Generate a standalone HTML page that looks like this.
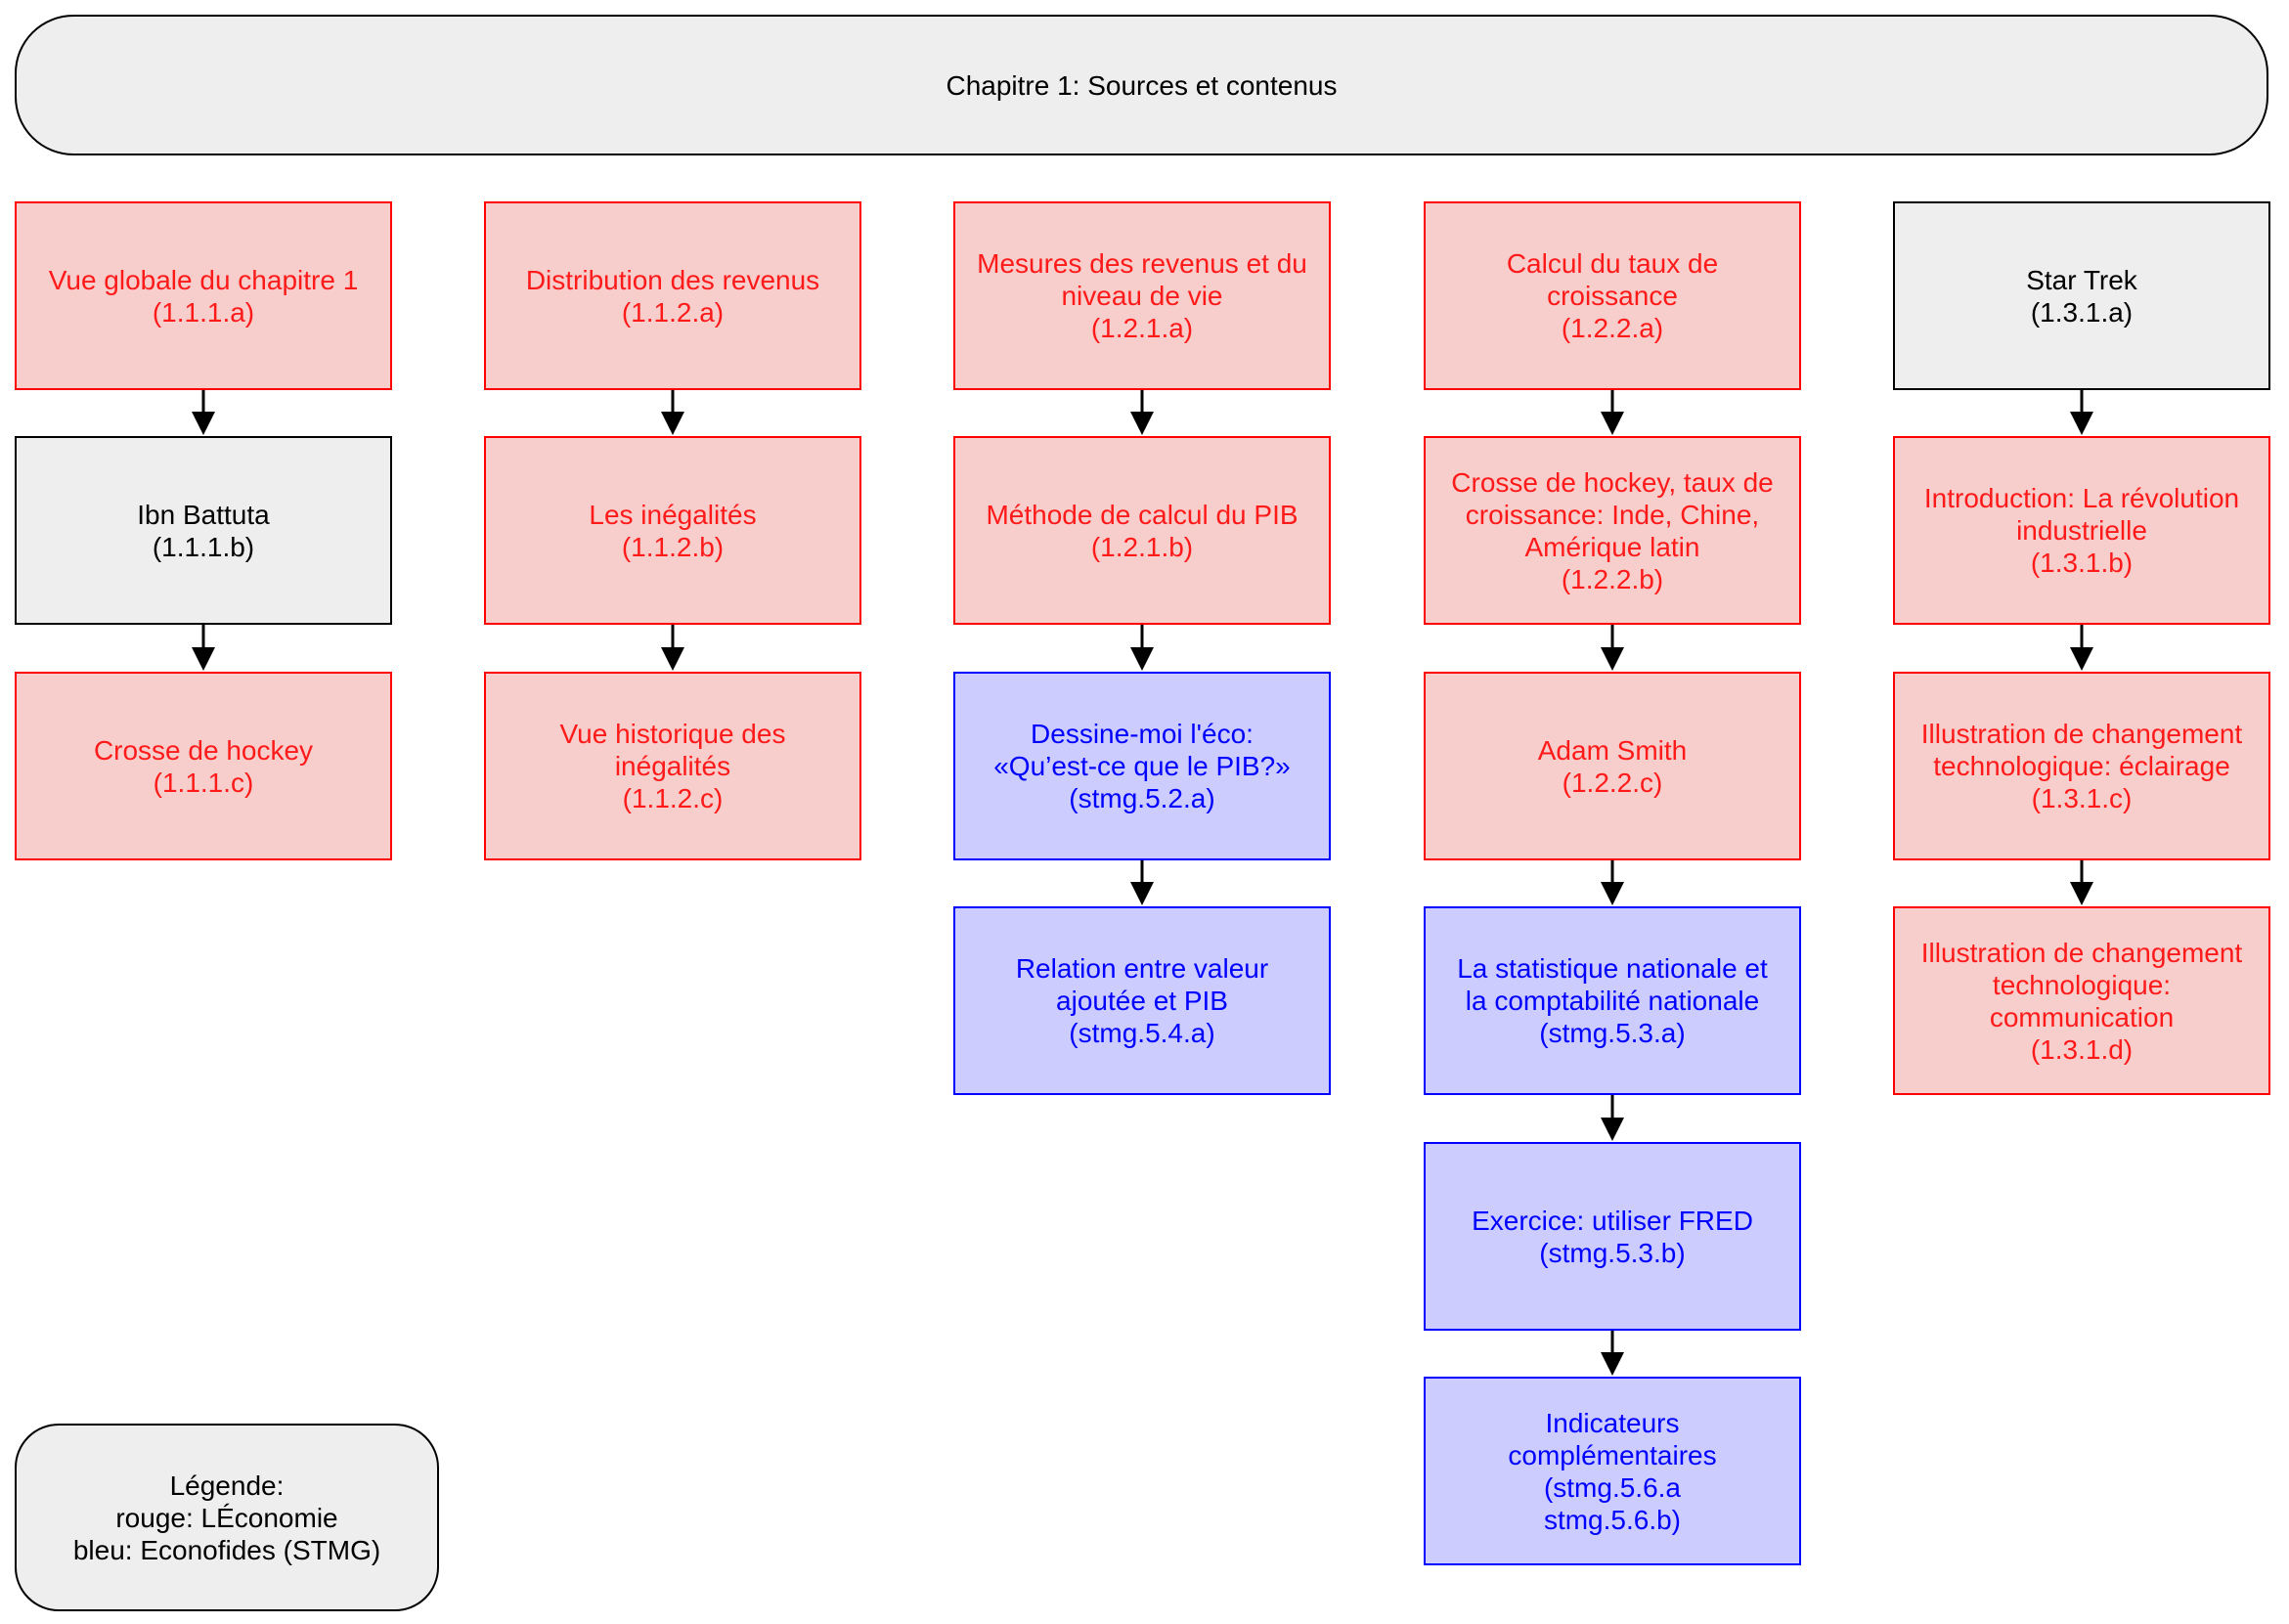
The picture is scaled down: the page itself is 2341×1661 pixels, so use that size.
<!DOCTYPE html>
<html><head><meta charset="utf-8"><style>
body{margin:0;width:2341px;height:1661px;background:#fff;position:relative;font-family:"Liberation Sans",Arial,sans-serif;overflow:hidden}
.b{position:absolute;box-sizing:border-box;display:flex;align-items:center;justify-content:center;text-align:center;font-size:28px;line-height:33px;border:2px solid}
.r{background:#f8cecc;border-color:#ff0000;color:#ff1a1a}
.u{background:#ccccff;border-color:#0000ff;color:#0000ff}
.g{background:#eeeeee;border-color:#000;color:#000}
svg{position:absolute;left:0;top:0}
</style></head><body>
<div class="b g" style="left:15px;top:15px;width:2305px;height:144px;border-radius:60px">Chapitre 1: Sources et contenus</div>
<div class="b g" style="left:15px;top:1456px;width:434px;height:192px;border-radius:45px">Légende:<br>rouge: LÉconomie<br>bleu: Econofides (STMG)</div>

<div class="b r" style="left:15px;top:206px;width:386px;height:193px">Vue globale du chapitre 1<br>(1.1.1.a)</div>
<div class="b g" style="left:15px;top:446px;width:386px;height:193px">Ibn Battuta<br>(1.1.1.b)</div>
<div class="b r" style="left:15px;top:687px;width:386px;height:193px">Crosse de hockey<br>(1.1.1.c)</div>

<div class="b r" style="left:495px;top:206px;width:386px;height:193px">Distribution des revenus<br>(1.1.2.a)</div>
<div class="b r" style="left:495px;top:446px;width:386px;height:193px">Les inégalités<br>(1.1.2.b)</div>
<div class="b r" style="left:495px;top:687px;width:386px;height:193px">Vue historique des<br>inégalités<br>(1.1.2.c)</div>

<div class="b r" style="left:975px;top:206px;width:386px;height:193px">Mesures des revenus et du<br>niveau de vie<br>(1.2.1.a)</div>
<div class="b r" style="left:975px;top:446px;width:386px;height:193px">Méthode de calcul du PIB<br>(1.2.1.b)</div>
<div class="b u" style="left:975px;top:687px;width:386px;height:193px">Dessine-moi l'éco:<br>«Qu’est-ce que le PIB?»<br>(stmg.5.2.a)</div>
<div class="b u" style="left:975px;top:927px;width:386px;height:193px">Relation entre valeur<br>ajoutée et PIB<br>(stmg.5.4.a)</div>

<div class="b r" style="left:1456px;top:206px;width:386px;height:193px">Calcul du taux de<br>croissance<br>(1.2.2.a)</div>
<div class="b r" style="left:1456px;top:446px;width:386px;height:193px">Crosse de hockey, taux de<br>croissance: Inde, Chine,<br>Amérique latin<br>(1.2.2.b)</div>
<div class="b r" style="left:1456px;top:687px;width:386px;height:193px">Adam Smith<br>(1.2.2.c)</div>
<div class="b u" style="left:1456px;top:927px;width:386px;height:193px">La statistique nationale et<br>la comptabilité nationale<br>(stmg.5.3.a)</div>
<div class="b u" style="left:1456px;top:1168px;width:386px;height:193px">Exercice: utiliser FRED<br>(stmg.5.3.b)</div>
<div class="b u" style="left:1456px;top:1408px;width:386px;height:193px">Indicateurs<br>complémentaires<br>(stmg.5.6.a<br>stmg.5.6.b)</div>

<div class="b g" style="left:1936px;top:206px;width:386px;height:193px">Star Trek<br>(1.3.1.a)</div>
<div class="b r" style="left:1936px;top:446px;width:386px;height:193px">Introduction: La révolution<br>industrielle<br>(1.3.1.b)</div>
<div class="b r" style="left:1936px;top:687px;width:386px;height:193px">Illustration de changement<br>technologique: éclairage<br>(1.3.1.c)</div>
<div class="b r" style="left:1936px;top:927px;width:386px;height:193px">Illustration de changement<br>technologique:<br>communication<br>(1.3.1.d)</div>

<svg width="2341" height="1661">
<defs><marker id="a" markerWidth="8" markerHeight="8" refX="7" refY="4" orient="auto" markerUnits="strokeWidth"><path d="M0,0 L8,4 L0,8 z" fill="#000"/></marker></defs>
<g stroke="#000" stroke-width="3" marker-end="url(#a)">
<line x1="208" y1="399" x2="208" y2="442"/>
<line x1="208" y1="639" x2="208" y2="683"/>
<line x1="688" y1="399" x2="688" y2="442"/>
<line x1="688" y1="639" x2="688" y2="683"/>
<line x1="1168" y1="399" x2="1168" y2="442"/>
<line x1="1168" y1="639" x2="1168" y2="683"/>
<line x1="1168" y1="880" x2="1168" y2="923"/>
<line x1="1649" y1="399" x2="1649" y2="442"/>
<line x1="1649" y1="639" x2="1649" y2="683"/>
<line x1="1649" y1="880" x2="1649" y2="923"/>
<line x1="1649" y1="1120" x2="1649" y2="1164"/>
<line x1="1649" y1="1361" x2="1649" y2="1404"/>
<line x1="2129" y1="399" x2="2129" y2="442"/>
<line x1="2129" y1="639" x2="2129" y2="683"/>
<line x1="2129" y1="880" x2="2129" y2="923"/>
</g>
</svg>
</body></html>
